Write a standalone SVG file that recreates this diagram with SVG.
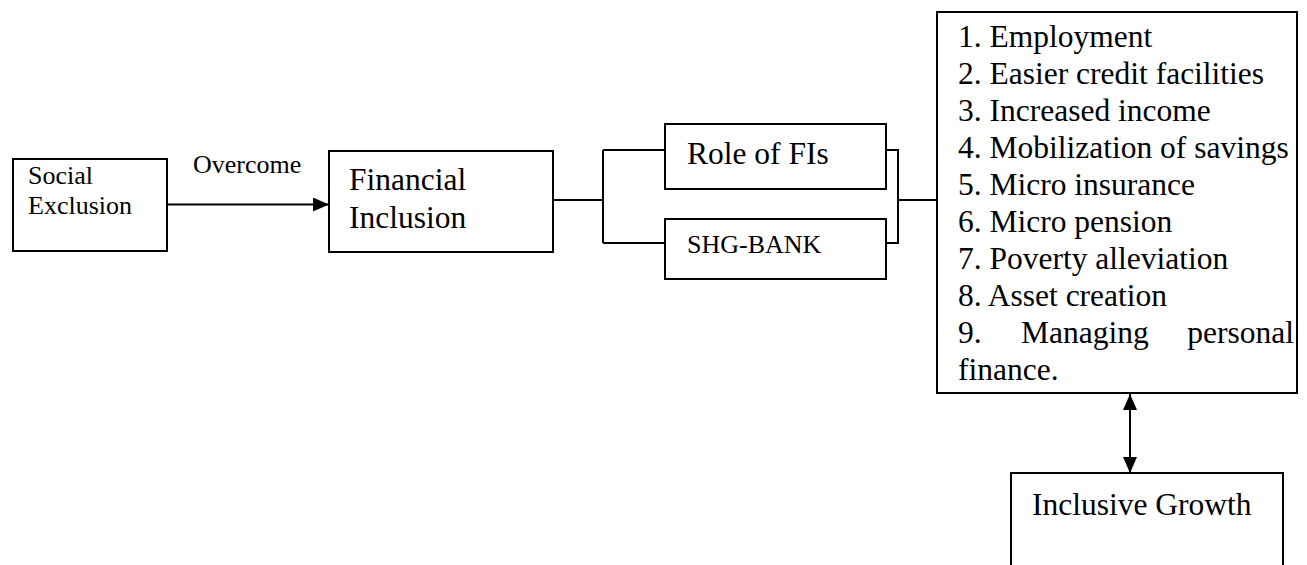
<svg xmlns="http://www.w3.org/2000/svg" width="1307" height="565" viewBox="0 0 1307 565">
<style>
.box{fill:#fff;stroke:#000;stroke-width:2}
.ln{fill:none;stroke:#000;stroke-width:2}
.t{font-family:"Liberation Serif","Times New Roman",serif;fill:#000}
.s{font-size:26px}
.b{font-size:31.5px}
</style>
<defs>
<marker id="ah" markerWidth="16" markerHeight="14" refX="16" refY="7" orient="auto-start-reverse" markerUnits="userSpaceOnUse" viewBox="0 0 16 14">
<path d="M0,0 L16,7 L0,14 Z" fill="#000"/>
</marker>
</defs>
<g id="connectors">
<line class="ln" x1="167" y1="204.5" x2="329" y2="204.5" marker-end="url(#ah)"/>
<path class="ln" d="M553,200 H603 M603,150 V243 M603,150 H665 M603,243 H665"/>
<path class="ln" d="M886,150 H898 V243 H886 M898,200 H937"/>
<line class="ln" x1="1130" y1="394" x2="1130" y2="473" marker-start="url(#ah)" marker-end="url(#ah)"/>
<text class="t s" x="193" y="173">Overcome</text>
</g>
<g id="social-exclusion">
<rect class="box" x="13" y="159" width="154" height="92"/>
<text class="t s" x="28" y="184">Social</text>
<text class="t s" x="28" y="214">Exclusion</text>
</g>
<g id="financial-inclusion">
<rect class="box" x="329" y="151" width="224" height="101"/>
<text class="t b" x="349" y="190">Financial</text>
<text class="t b" x="349" y="228">Inclusion</text>
</g>
<g id="role-of-fis">
<rect class="box" x="665" y="124" width="221" height="65"/>
<text class="t b" x="687" y="164">Role of FIs</text>
</g>
<g id="shg-bank">
<rect class="box" x="665" y="219" width="221" height="60"/>
<text class="t s" x="687" y="253">SHG-BANK</text>
</g>
<g id="outcomes">
<rect class="box" x="937" y="12" width="360" height="381"/>
<text class="t b" x="958" y="47">1. Employment</text>
<text class="t b" x="958" y="84">2. Easier credit facilities</text>
<text class="t b" x="958" y="121">3. Increased income</text>
<text class="t b" x="958" y="158">4. Mobilization of savings</text>
<text class="t b" x="958" y="195">5. Micro insurance</text>
<text class="t b" x="958" y="232">6. Micro pension</text>
<text class="t b" x="958" y="269">7. Poverty alleviation</text>
<text class="t b" x="958" y="306">8. Asset creation</text>
<text class="t b" x="958" y="343">9.</text>
<text class="t b" x="1021" y="343">Managing</text>
<text class="t b" x="1294" y="343" text-anchor="end">personal</text>
<text class="t b" x="958" y="380">finance.</text>
</g>
<g id="inclusive-growth">
<rect class="box" x="1011" y="473" width="272" height="100"/>
<text class="t b" x="1032" y="515">Inclusive Growth</text>
</g>
</svg>
